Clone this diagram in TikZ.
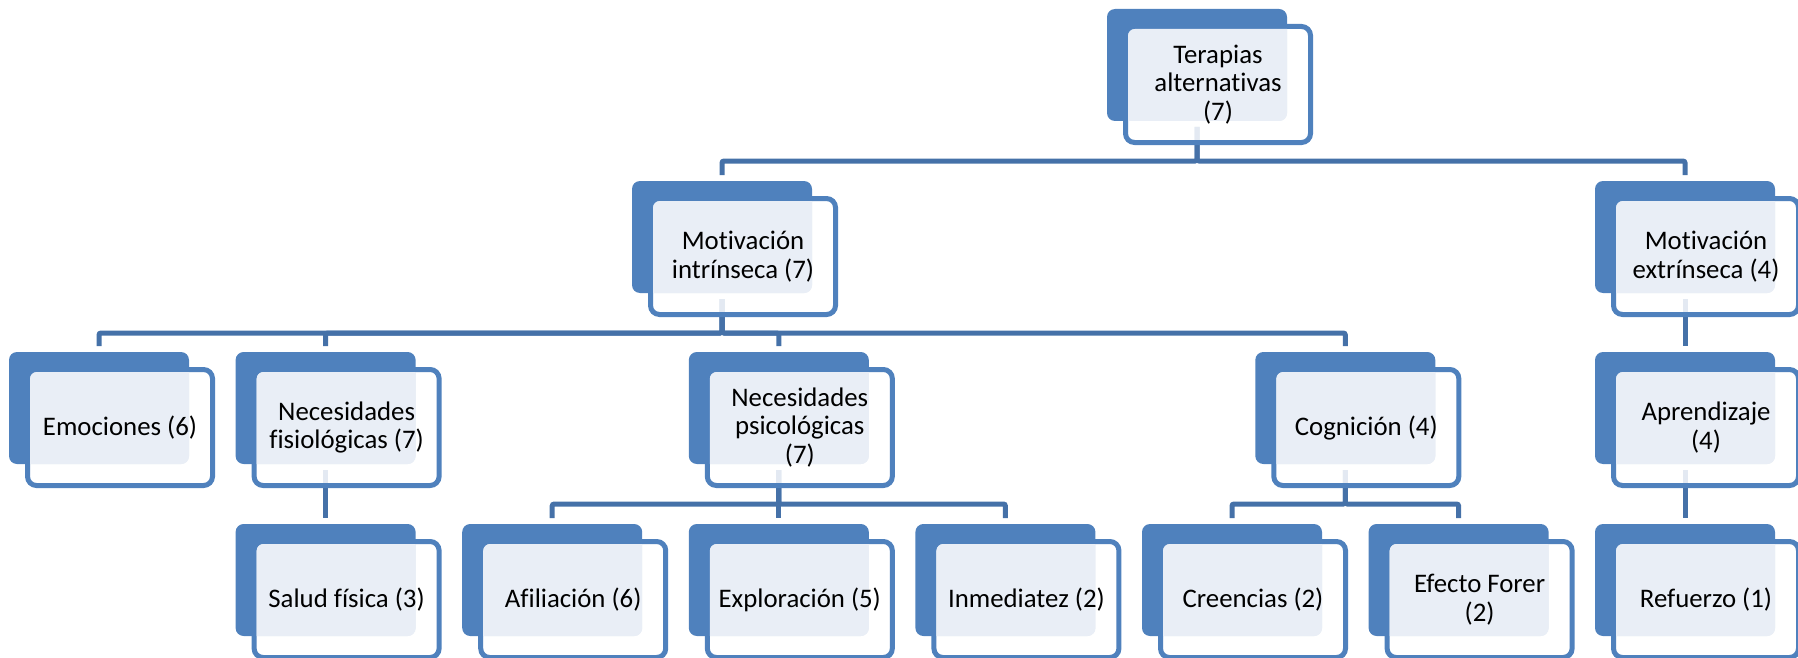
\documentclass[tikz,border=0pt]{standalone}
\usepackage{fontspec}
\setmainfont[Ligatures=NoCommon]{Carlito}
\pgfdeclarelayer{bg}
\pgfsetlayers{bg,main}
\definecolor{boxblue}{HTML}{4F81BD}
\definecolor{linkblue}{HTML}{4571A8}
\definecolor{lightfill}{HTML}{E9EEF6}
\tikzset{
  backbox/.style={rectangle, rounded corners=8pt, fill=boxblue, minimum width=180pt, minimum height=112pt, inner sep=0pt, outer sep=0pt, anchor=north west},
  frontbox/.style={rectangle, rounded corners=9pt, draw=boxblue, line width=5pt, fill=white, fill opacity=0.85, minimum width=185pt, minimum height=116pt, inner sep=0pt, outer sep=0pt, anchor=north west},
  boxtext/.style={align=center, text=black, font=\fontsize{26.8pt}{28.8pt}\selectfont, inner sep=0pt},
  link/.style={draw=linkblue, line width=5pt, rounded corners=2pt}
}
\newcommand\smartbox[4]{%
  \node[backbox] (#1-b) at (#2,-#3) {};
  \node[frontbox] (#1-f) at (#2+18.5,-#3-17.5) {};
  \begin{scope}
    \clip[rounded corners=8pt] (#1-b.north west) rectangle (#1-b.south east);
    \fill[lightfill, rounded corners=7pt] ([shift={(2.5pt,-2.5pt)}]#1-f.north west) rectangle ([shift={(-2.5pt,2.5pt)}]#1-f.south east);
  \end{scope}
  \node[boxtext] (#1) at (#1-f.center) {#4};%
}
% tree link: parent, child
\newcommand\treelink[2]{%
  \draw[link] ([yshift=-6pt]#1-b.south) -- ([yshift=-40pt]#1-b.south) -| ([yshift=6pt]#2-b.north);%
}
\begin{document}
\begin{tikzpicture}[x=1pt,y=1pt]
\useasboundingbox (0,0) rectangle (1798,-658);
% level 1
\smartbox{top}{1107}{9}{Terapias\\alternativas\\(7)}
% level 2
\smartbox{mi}{632}{181}{Motivación\\intrínseca (7)}
\smartbox{me}{1595}{181}{Motivación\\extrínseca (4)}
% level 3
\smartbox{emo}{9}{352}{Emociones (6)}
\smartbox{nf}{235.6}{352}{Necesidades\\fisiológicas (7)}
\smartbox{np}{688.8}{352}{Necesidades\\psicológicas\\(7)}
\smartbox{cog}{1255.3}{352}{Cognición (4)}
\smartbox{apr}{1595}{352}{Aprendizaje\\(4)}
% level 4
\smartbox{sf}{235.6}{524}{Salud física (3)}
\smartbox{afi}{462.2}{524}{Afiliación (6)}
\smartbox{exq}{688.8}{524}{Exploración (5)}
\smartbox{inm}{915.4}{524}{Inmediatez (2)}
\smartbox{cre}{1142}{524}{Creencias (2)}
\smartbox{ef}{1368.6}{524}{Efecto Forer\\(2)}
\smartbox{ref}{1595}{524}{Refuerzo (1)}
\begin{pgfonlayer}{bg}
\treelink{top}{mi}
\treelink{top}{me}
\treelink{mi}{emo}
\treelink{mi}{nf}
\treelink{mi}{np}
\treelink{mi}{cog}
\treelink{np}{afi}
\treelink{np}{exq}
\treelink{np}{inm}
\treelink{cog}{cre}
\treelink{cog}{ef}
\draw[link] ([yshift=-6pt]me-b.south) -- ([yshift=6pt]apr-b.north);
\draw[link] ([yshift=-6pt]apr-b.south) -- ([yshift=6pt]ref-b.north);
\draw[link] ([yshift=-6pt]nf-b.south) -- ([yshift=6pt]sf-b.north);
\end{pgfonlayer}
\end{tikzpicture}
\end{document}
